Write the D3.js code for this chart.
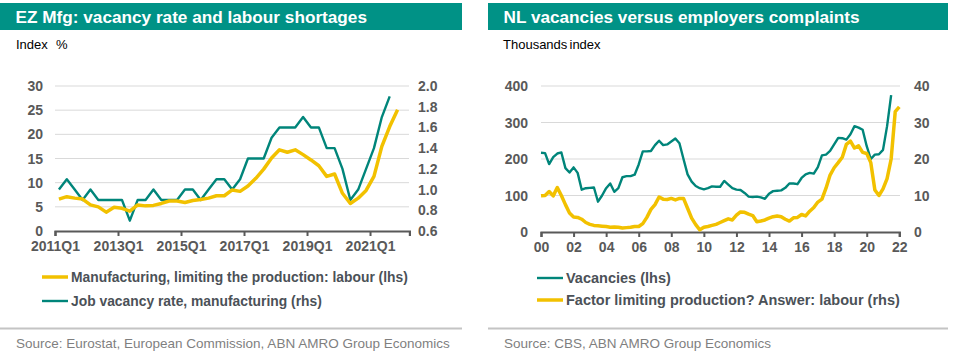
<!DOCTYPE html>
<html><head><meta charset="utf-8">
<script src="https://cdn.jsdelivr.net/npm/d3@7"></script>
<style>
html,body{margin:0;padding:0;background:#fff;}
svg{display:block;font-family:"Liberation Sans",Arial,sans-serif;}
</style></head>
<body><svg id="c" width="955" height="355"></svg>
<script>
// ---------- Left chart data (quarterly, 2011Q1..) ----------
const ezQuarterTicks = ["2011Q1","2013Q1","2015Q1","2017Q1","2019Q1","2021Q1"];
const ezLabourLhs = [6.6,7.1,6.8,6.6,5.4,5.0,3.9,4.9,4.7,4.1,5.4,5.2,5.3,5.7,6.2,6.2,5.9,6.3,6.5,6.8,7.3,7.3,8.5,8.2,9.3,10.9,12.8,15.1,16.8,16.3,16.8,15.8,14.7,13.5,11.3,11.8,7.8,5.7,6.8,8.4,11.3,17.5,21.6,25.1];
const ezVacancyRhs = [1.0,1.1,1.0,0.9,1.0,0.9,0.9,0.9,0.9,0.7,0.9,0.9,1.0,0.9,0.9,0.9,1.0,1.0,0.9,1.0,1.1,1.1,1.0,1.1,1.3,1.3,1.3,1.5,1.6,1.6,1.6,1.7,1.6,1.6,1.4,1.4,1.2,0.9,1.0,1.2,1.4,1.7,1.9];
const ezLeftTicks = [0,5,10,15,20,25,30];
const ezRightTicks = [0.6,0.8,1.0,1.2,1.4,1.6,1.8,2.0];

// ---------- Right chart data (quarterly, 2000Q1..) ----------
const nlYearTicks = ["00","02","04","06","08","10","12","14","16","18","20","22"];
const nlVacanciesLhs = [217,216,186,205,215,218,175,163,177,162,116,120,121,122,83,100,120,133,110,120,150,153,153,157,185,221,221,222,238,250,238,240,248,256,243,200,158,138,126,120,117,120,125,124,124,140,130,120,116,115,107,97,96,97,95,91,105,112,113,114,121,133,133,131,148,158,162,160,178,210,212,222,240,258,257,253,268,290,286,280,235,200,212,213,225,290,375];
const nlLabourRhs = [9.9,10.0,11.1,9.9,12.2,10.0,7.5,5.2,4.1,4.0,3.5,2.6,2.1,1.8,1.7,1.6,1.5,1.3,1.4,1.3,1.1,1.2,1.3,1.5,1.5,2.3,4.0,6.2,7.5,9.6,9.0,8.9,9.2,8.8,9.2,9.2,6.5,3.8,2.0,0.6,1.3,1.5,1.8,2.1,2.6,3.1,3.6,3.3,4.6,5.5,5.4,4.9,4.5,2.8,3.0,3.3,3.8,4.2,4.4,4.2,3.5,3.0,3.9,4.0,4.8,4.4,5.7,6.7,8.2,9.0,12.0,15.6,17.6,19.0,20.5,24.0,24.9,23.0,23.6,21.8,21.5,19.0,11.5,10.0,11.8,14.6,20.0,33.0,34.3];
const nlLeftTicks = [0,100,200,300,400];
const nlRightTicks = [0,10,20,30,40];

const TEAL = "#009286", LINE_G = "#00857A", YEL = "#F2C100";
const GRID = "#d9d9d9", AXIS = "#595959", TXT = "#595959", LEG = "#4b5157", SRC = "#7f7f7f";

const svg = d3.select("#c");

function header(x, w, title, unitTexts){
  svg.append("rect").attr("x",x).attr("y",3).attr("width",w).attr("height",27).attr("fill",TEAL);
  svg.append("text").attr("x",x+15.5).attr("y",23).attr("fill","#fff")
     .attr("font-size",17.2).attr("font-weight","bold").text(title);
  unitTexts.forEach(u=>{
    svg.append("text").attr("x",u[0]).attr("y",49).attr("font-size",13).attr("fill","#000").text(u[1]);
  });
}
function footer(x, w, src){
  svg.append("line").attr("x1",x).attr("x2",x+w).attr("y1",328.5).attr("y2",328.5)
     .attr("stroke","#c4c4c4").attr("stroke-width",2);
  svg.append("text").attr("x",x+16).attr("y",348).attr("font-size",13.5).attr("fill",SRC).text(src);
}
function legendItem(x, y, color, width, label, fs){
  svg.append("line").attr("x1",x).attr("x2",x+26).attr("y1",y).attr("y2",y)
     .attr("stroke",color).attr("stroke-width",width);
  svg.append("text").attr("x",x+29).attr("y",y+5).attr("font-size",fs).attr("font-weight","bold")
     .attr("fill",LEG).text(label);
}
function yTicks(g, scale, ticks, x, anchor, fmt){
  g.selectAll(null).data(ticks).join("text")
   .attr("x",x).attr("y",d=>scale(d)+5).attr("text-anchor",anchor)
   .attr("font-size",14).attr("font-weight","bold").attr("fill",TXT).text(fmt);
}

// ================= LEFT CHART =================
header(0, 462, "EZ Mfg: vacancy rate and labour shortages", [[16,"Index"],[56,"%"]]);
{
  const g = svg.append("g");
  const x = d3.scaleLinear().domain([0,45]).range([55,409.4]);
  const yL = d3.scaleLinear().domain([0,30]).range([231,86]);
  const yR = d3.scaleLinear().domain([0.6,2.0]).range([231,86]);
  g.selectAll(null).data(ezLeftTicks.slice(1)).join("line")
    .attr("x1",55).attr("x2",409).attr("y1",d=>yL(d)).attr("y2",d=>yL(d))
    .attr("stroke",GRID).attr("stroke-width",1);
  const ax = g.append("g").attr("transform","translate(0,231)")
    .call(d3.axisBottom(x).tickValues(d3.range(0,41,8)).tickSize(5).tickFormat((d,i)=>ezQuarterTicks[i]));
  ax.select(".domain").attr("stroke",AXIS).attr("stroke-width",2.2);
  ax.selectAll(".tick line").attr("stroke",AXIS).attr("stroke-width",2);
  ax.selectAll(".tick text").attr("font-size",14).attr("font-weight","bold").attr("fill",TXT)
    .attr("font-family","Liberation Sans, Arial, sans-serif").attr("dy","0.95em").attr("y",7);
  yTicks(g, yL, ezLeftTicks, 43, "end", d=>d);
  yTicks(g, yR, ezRightTicks, 418, "start", d=>d.toFixed(1));
  g.append("path").datum(ezVacancyRhs).attr("fill","none").attr("stroke",LINE_G).attr("stroke-width",2.4)
    .attr("stroke-linejoin","round")
    .attr("d",d3.line().x((d,i)=>x(i+0.5)).y(d=>yR(d)));
  g.append("path").datum(ezLabourLhs).attr("fill","none").attr("stroke",YEL).attr("stroke-width",3.5)
    .attr("stroke-linejoin","round")
    .attr("d",d3.line().x((d,i)=>x(i+0.5)).y(d=>yL(d)));
  legendItem(42, 277, YEL, 3.5, "Manufacturing, limiting the production: labour (lhs)", 13.85);
  legendItem(42, 301, LINE_G, 2.4, "Job vacancy rate, manufacturing (rhs)", 13.85);
}
footer(0, 462, "Source: Eurostat, European Commission, ABN AMRO Group Economics");

// ================= RIGHT CHART =================
header(488, 460, "NL vacancies versus employers complaints", [[503,"Thousands"],[569.5,"index"]]);
{
  const g = svg.append("g");
  const x = d3.scaleLinear().domain([2000,2022]).range([541,899.3]);
  const yL = d3.scaleLinear().domain([0,400]).range([232,86]);
  const yR = d3.scaleLinear().domain([0,40]).range([232,86]);
  g.selectAll(null).data(nlLeftTicks.slice(1)).join("line")
    .attr("x1",541).attr("x2",900).attr("y1",d=>yL(d)).attr("y2",d=>yL(d))
    .attr("stroke",GRID).attr("stroke-width",1);
  const ax = g.append("g").attr("transform","translate(0,232)")
    .call(d3.axisBottom(x).tickValues(d3.range(2000,2023,2)).tickSize(5).tickFormat((d,i)=>nlYearTicks[i]));
  ax.select(".domain").attr("stroke",AXIS).attr("stroke-width",2.2);
  ax.selectAll(".tick line").attr("stroke",AXIS).attr("stroke-width",2);
  ax.selectAll(".tick text").attr("font-size",14).attr("font-weight","bold").attr("fill",TXT)
    .attr("font-family","Liberation Sans, Arial, sans-serif").attr("dy","0.95em").attr("y",7);
  yTicks(g, yL, nlLeftTicks, 528, "end", d=>d);
  yTicks(g, yR, nlRightTicks, 914, "start", d=>d);
  g.append("path").datum(nlVacanciesLhs).attr("fill","none").attr("stroke",LINE_G).attr("stroke-width",2.4)
    .attr("stroke-linejoin","round")
    .attr("d",d3.line().x((d,i)=>x(2000+i/4)).y(d=>yL(d)));
  g.append("path").datum(nlLabourRhs).attr("fill","none").attr("stroke",YEL).attr("stroke-width",3.5)
    .attr("stroke-linejoin","round")
    .attr("d",d3.line().x((d,i)=>x(2000+i/4)).y(d=>yR(d)));
  legendItem(537, 278, LINE_G, 2.4, "Vacancies (lhs)", 14.5);
  legendItem(537, 300, YEL, 3.5, "Factor limiting production? Answer: labour (rhs)", 14.5);
}
footer(488, 460, "Source: CBS, ABN AMRO Group Economics");
</script></body></html>
